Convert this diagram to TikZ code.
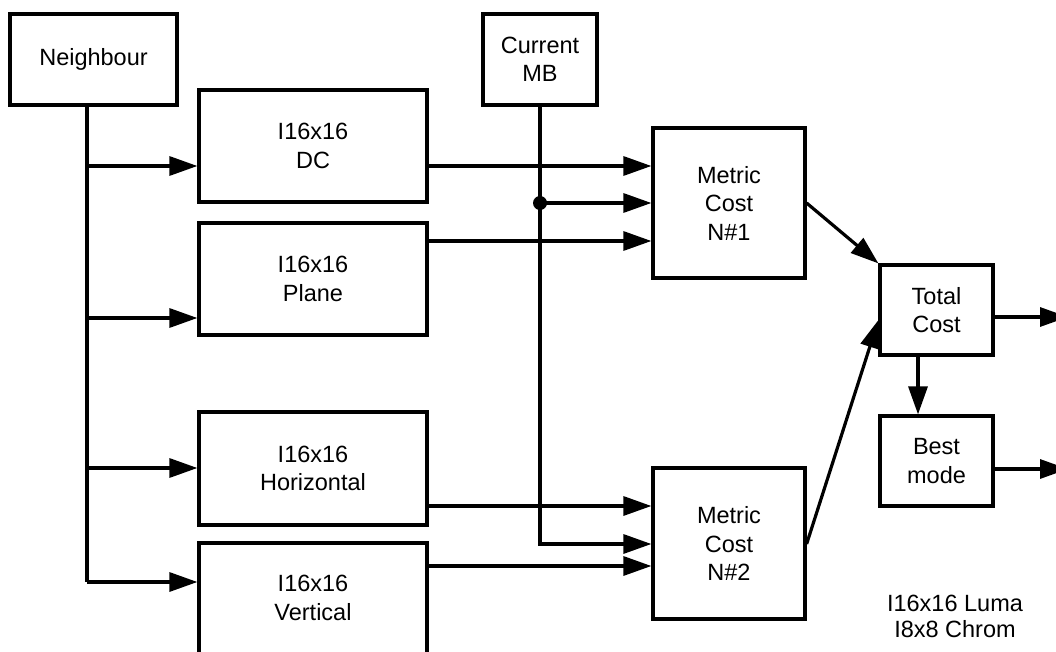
\documentclass[tikz,border=0pt]{standalone}
\usepackage{fontspec}
\setmainfont{Liberation Sans}
\usetikzlibrary{arrows.meta}
\begin{document}
\begin{tikzpicture}[x=1pt,y=-1pt,
  blk/.style={draw, line width=3.2pt, inner sep=0pt, align=center,
    font=\fontsize{23.5}{28.5}\selectfont},
  arr/.style={line width=3.2pt, -{Triangle[length=28pt,width=19pt]}},
  wire/.style={line width=3.2pt}]
\useasboundingbox (0,0) rectangle (1056,652);
\clip (0,0) rectangle (1056,652);
\node[blk, minimum width=167pt, minimum height=91pt] (nb) at (93.5,59.5) {Neighbour};
\node[blk, minimum width=114pt, minimum height=91pt] (cm) at (540,59.5) {Current\\MB};
\node[blk, minimum width=228pt, minimum height=112pt] (dc) at (313,146) {I16x16\\DC};
\node[blk, minimum width=228pt, minimum height=112pt] (pl) at (313,279) {I16x16\\Plane};
\node[blk, minimum width=228pt, minimum height=113pt] (hz) at (313,468.5) {I16x16\\Horizontal};
\node[blk, minimum width=228pt, minimum height=120pt, text depth=0pt] (vt) at (313,603) {};
\node[font=\fontsize{23.5}{28.5}\selectfont, align=center] (vtt) at (313,598) {I16x16\\Vertical};
\node[blk, minimum width=152pt, minimum height=150pt] (m1) at (729,203) {Metric\\Cost\\N\#1};
\node[blk, minimum width=152pt, minimum height=151pt] (m2) at (729,543.5) {Metric\\Cost\\N\#2};
\node[blk, minimum width=113pt, minimum height=90pt] (tc) at (936.5,310) {Total\\Cost};
\node[blk, minimum width=113pt, minimum height=90pt] (bm) at (936.5,461) {Best\\mode};
\node[font=\fontsize{23.5}{26}\selectfont, align=center] (lg) at (955,616) {I16x16 Luma\\I8x8 Chrom};
% neighbour bus
\coordinate (nbt) at (87,105);
\coordinate (j1) at (87,166);
\coordinate (j2) at (87,318);
\coordinate (j3) at (87,468);
\coordinate (j4) at (87,582);
\draw[wire] (nbt) -- (j4);
\draw[arr] (j1) -- (j1 -| dc.west);
\draw[arr] (j2) -- (j2 -| pl.west);
\draw[arr] (j3) -- (j3 -| hz.west);
\draw[arr] (j4) -- (j4 -| vt.west);
% inputs to metric 1
\coordinate (d1) at (540,203);
\draw[arr] (j1 -| dc.east) -- (j1 -| m1.west);
\draw[arr] (d1) -- (d1 -| m1.west);
\fill (d1) circle[radius=7pt];
\coordinate (p1) at (0,241);
\draw[arr] (p1 -| pl.east) -- (p1 -| m1.west);
% current MB line
\coordinate (c2) at (540,544);
\draw[arr] (cm.south) -- (c2) -- (c2 -| m2.west);
% inputs to metric 2
\coordinate (h1) at (0,506);
\coordinate (v1) at (0,566);
\draw[arr] (h1 -| hz.east) -- (h1 -| m2.west);
\draw[arr] (v1 -| vt.east) -- (v1 -| m2.west);
% to total cost
\coordinate (t2) at (0,320);
\draw[arr] (d1 -| m1.east) -- (tc.north west);
\draw[arr] (c2 -| m2.east) -- (t2 -| tc.west);
\coordinate (x1) at (918,0);
\draw[arr] (x1 |- tc.south) -- (x1 |- bm.north);
\coordinate (o1) at (1068,317);
\coordinate (o2) at (1068,469);
\draw[arr] (o1 -| tc.east) -- (o1);
\draw[arr] (o2 -| bm.east) -- (o2);
\end{tikzpicture}
\end{document}
